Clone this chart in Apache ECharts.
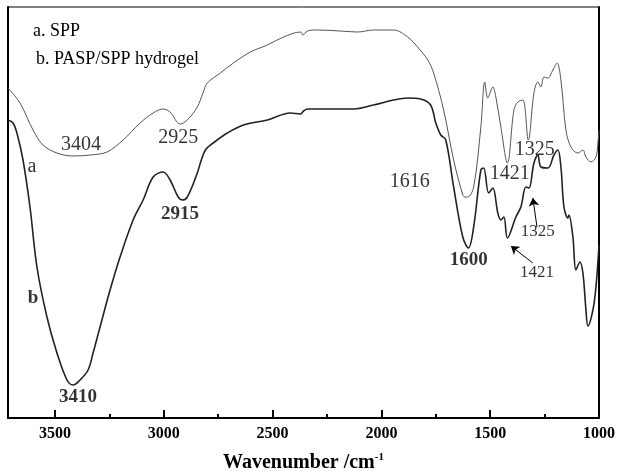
<!DOCTYPE html>
<html><head><meta charset="utf-8">
<script src="https://cdn.jsdelivr.net/npm/echarts@6/dist/echarts.min.js"></script>
<style>html,body{margin:0;padding:0;background:#fff}#c{width:620px;height:471px}</style>
</head><body><div id="c"></div>
<script>
// Curve a: SPP (wavenumber cm-1, transmittance a.u.)
const waveA = [3716,3661,3601,3555,3491,3417,3339,3261,3187,3109,3049,3003,2971,2925,2892,2846,2820,2800,2740,2680,2602,2524,2450,2372,2360,2340,2294,2188,2110,2036,1944,1879,1830,1787,1760,1714,1668,1626,1616,1603,1576,1543,1525,1511,1488,1474,1451,1421,1391,1373,1350,1325,1299,1281,1267,1253,1235,1212,1193,1175,1152,1129,1097,1074,1060,1037,1014,1005,1000];
const transA = [330,315,288,273,265,262,263,266,278,295,305,309,306,294,298,311,325,335,345,355,366,373,381,386,383,387,388,387,386,388,388,381,370,358,345,308,258,223,221,221,231,291,336,320,331,321,291,255,308,316,318,278,325,336,331,341,340,348,355,338,288,271,265,268,261,256,261,275,288];
// Curve b: PASP/SPP hydrogel
const waveB = [3716,3693,3675,3647,3615,3583,3537,3491,3445,3417,3385,3348,3325,3293,3247,3201,3141,3095,3049,3003,2971,2934,2915,2892,2846,2832,2809,2773,2708,2634,2524,2418,2372,2358,2340,2248,2128,2036,1944,1879,1820,1774,1750,1727,1704,1668,1626,1600,1576,1543,1530,1507,1488,1465,1451,1437,1421,1382,1359,1336,1322,1299,1281,1267,1235,1207,1189,1175,1161,1143,1138,1120,1106,1088,1074,1060,1051,1028,1014,1000];
const transB = [298,295,285,258,211,151,101,65,38,33,38,48,65,91,128,161,198,218,241,246,238,221,218,221,245,255,268,275,285,293,298,305,304,307,309,309,309,313,318,320,319,313,295,283,278,231,181,170,191,248,250,225,230,205,198,201,180,201,211,231,230,255,263,251,250,263,268,251,211,200,203,181,148,156,145,108,92,108,131,173];
// x-axis tick labels
const xTickValues = [1000,1500,2000,2500,3000,3500];
// Peak annotations (text, wavenumber, transmittance)
const plainText = ['3404','2925','1616','1421','1325','a'];
const plainWave = [3380,2934,1870,1410,1295,3606];
const plainTrans = [273,280,236,244,268,251];
const smallText = ['1325','1421'];
const smallWave = [1281,1285];
const smallTrans = [186,145];
const boldText = ['3410','2915','1600','b'];
const boldWave = [3394,2925,1599,3601];
const boldTrans = [21,204,158,120];
// Arrows: tail and head points
const arrowTail = [[1285,191],[1304,155]];
const arrowHead = [[1304,220],[1405,172]];

const serif = '"Liberation Serif","Times New Roman",serif';
const chart = echarts.init(document.getElementById('c'));

function pts(w, t) { return w.map((v, i) => [v, t[i]]); }
function annot(texts, w, t) { return texts.map((s, i) => ({ name: s, value: [w[i], t[i]] })); }

chart.setOption({
  animation: false,
  backgroundColor: '#fff',
  grid: { left: 8, right: 21, top: 7, bottom: 53, show: true, borderColor: '#000', borderWidth: 1,
          containLabel: false, outerBoundsMode: 'none' },
  xAxis: [{
    type: 'value', inverse: true, min: 1000, max: 3716, interval: 500, position: 'bottom',
    splitLine: { show: false },
    axisLine: { show: true, lineStyle: { color: '#000', width: 2 } },
    axisTick: { show: true, inside: true, length: 8, lineStyle: { color: '#000', width: 2 } },
    axisLabel: {
      margin: 8, color: '#000', fontFamily: serif, fontWeight: 'bold', fontSize: 16,
      formatter: v => xTickValues.indexOf(v) >= 0 ? String(v) : ''
    },
    name: '{n|Wavenumber /cm}{s|-1}', nameLocation: 'middle', nameGap: 34,
    nameTextStyle: { rich: {
      n: { fontFamily: serif, fontWeight: 'bold', fontSize: 20, color: '#000' },
      s: { fontFamily: serif, fontWeight: 'bold', fontSize: 11, color: '#000', verticalAlign: 'top', padding: [0,0,10,0] }
    } }
  }, {
    type: 'value', inverse: true, min: 1000, max: 3716, interval: 250, position: 'bottom',
    splitLine: { show: false }, axisLine: { show: false }, axisLabel: { show: false },
    axisTick: { show: true, inside: true, length: 4, lineStyle: { color: '#000', width: 2 } }
  }],
  yAxis: [{
    type: 'value', min: 0, max: 411, position: 'left',
    splitLine: { show: false }, axisLabel: { show: false }, axisTick: { show: false },
    axisLine: { show: true, lineStyle: { color: '#000', width: 2 } }
  }, {
    type: 'value', min: 0, max: 411, position: 'right',
    splitLine: { show: false }, axisLabel: { show: false }, axisTick: { show: false },
    axisLine: { show: true, lineStyle: { color: '#000', width: 2 } }
  }],
  graphic: [
    { type: 'text', left: 33, top: 22, style: { text: 'a. SPP', font: '18px ' + serif, fill: '#000' } },
    { type: 'text', left: 36, top: 50, style: { text: 'b. PASP/SPP hydrogel', font: '18px ' + serif, fill: '#000' } }
  ],
  series: [
    { type: 'line', name: 'SPP', data: pts(waveA, transA), showSymbol: false, smooth: 0.35,
      lineStyle: { color: '#555', width: 1 } },
    { type: 'line', name: 'PASP/SPP hydrogel', data: pts(waveB, transB), showSymbol: false, smooth: 0.35,
      lineStyle: { color: '#222', width: 1.6 } },
    { type: 'scatter', data: annot(plainText, plainWave, plainTrans), symbolSize: 0,
      label: { show: true, position: 'inside', formatter: '{b}', color: '#000', fontFamily: serif, fontSize: 20 } },
    { type: 'scatter', data: annot(smallText, smallWave, smallTrans), symbolSize: 0,
      label: { show: true, position: 'inside', formatter: '{b}', color: '#000', fontFamily: serif, fontSize: 17 } },
    { type: 'scatter', data: annot(boldText, boldWave, boldTrans), symbolSize: 0,
      label: { show: true, position: 'inside', formatter: '{b}', color: '#000', fontFamily: serif, fontSize: 19, fontWeight: 'bold' } },
    { type: 'lines', coordinateSystem: 'cartesian2d', symbol: ['none', 'arrow'], symbolSize: 8,
      lineStyle: { color: '#000', width: 1, opacity: 1 },
      data: arrowTail.map((t, i) => ({ coords: [t, arrowHead[i]] })) }
  ]
});
</script></body></html>
